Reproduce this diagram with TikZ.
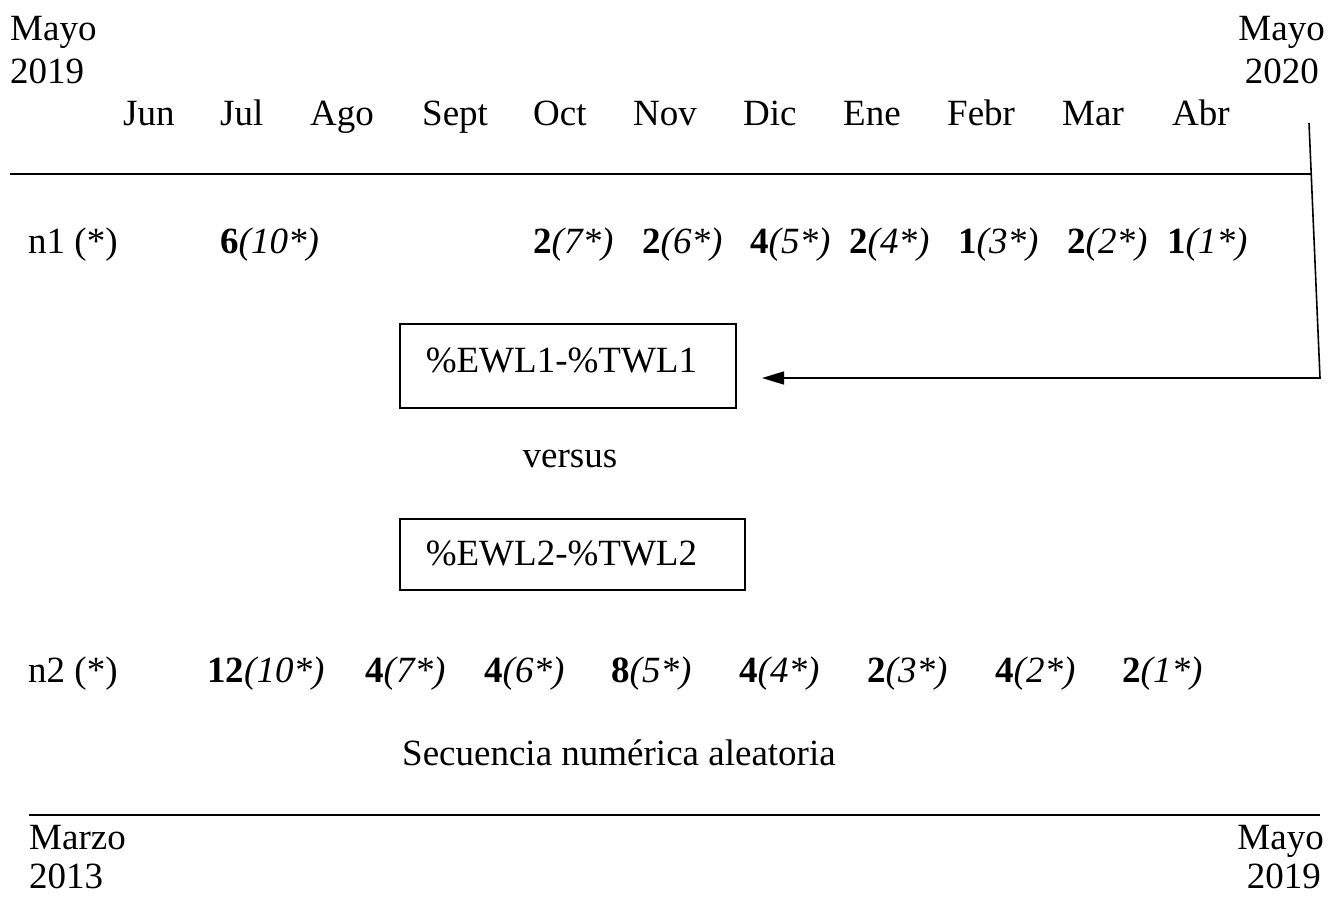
\documentclass[tikz,border=0pt]{standalone}
\usepackage{fontspec}
\setmainfont{Liberation Serif}
\usetikzlibrary{arrows.meta}
\tikzset{
  txt/.style={font=\fontsize{37}{43}\selectfont, inner sep=0pt},
  lft/.style={txt, anchor=base west},
  rgt/.style={txt, anchor=base east},
  rule/.style={line width=1.6pt},
  boxn/.style={txt, draw, line width=1.6pt, anchor=north west, align=left, inner xsep=26pt, inner ysep=0pt, text height=24pt},
  conn/.style={line width=1.6pt, -{Triangle[length=22pt,width=13pt]}}
}
\newcommand{\nv}[2]{\textbf{#1}\textit{(#2*)}}
\begin{document}
\begin{tikzpicture}[x=1pt,y=-1pt]
\useasboundingbox (0,0) rectangle (1341,897);
% top corner labels
\node[lft] (tl1) at (10,40) {Mayo};
\node[lft] (tl2) at (10,83) {2019};
\node[rgt] (tr1) at (1325,40) {Mayo};
\node[rgt] (tr2) at (1319,83) {2020};
% months
\node[lft] (m1) at (123,125) {Jun};
\node[lft] (m2) at (220,125) {Jul};
\node[lft] (m3) at (310,125) {Ago};
\node[lft] (m4) at (422,125) {Sept};
\node[lft] (m5) at (533,125) {Oct};
\node[lft] (m6) at (633,125) {Nov};
\node[lft] (m7) at (743,125) {Dic};
\node[lft] (m8) at (843,125) {Ene};
\node[lft] (m9) at (947,125) {Febr};
\node[lft] (m10) at (1062,125) {Mar};
\node[lft] (m11) at (1172,125) {Abr};
% top rule
\coordinate (r1a) at (10,174);
\coordinate (r1b) at (1311,174);
\draw[rule] (r1a) -- (r1b);
% n1 row
\node[lft] (n1) at (28,253) {n1 (*)};
\node[lft] (a1) at (220,253) {\nv{6}{10}};
\node[lft] (a2) at (533,253) {\nv{2}{7}};
\node[lft] (a3) at (642,253) {\nv{2}{6}};
\node[lft] (a4) at (750,253) {\nv{4}{5}};
\node[lft] (a5) at (849,253) {\nv{2}{4}};
\node[lft] (a6) at (958,253) {\nv{1}{3}};
\node[lft] (a7) at (1067,253) {\nv{2}{2}};
\node[lft] (a8) at (1167,253) {\nv{1}{1}};
% boxes
\node[boxn, text width=284pt, minimum height=84pt, text depth=10pt] (box1) at (399,323) {\%EWL1-\%TWL1};
\node[txt, anchor=base] (vs) at (570,467) {versus};
\node[boxn, text width=293pt, minimum height=71pt, text depth=1pt] (box2) at (399,518) {\%EWL2-\%TWL2};
% connector
\coordinate (c1) at (1309,123);
\coordinate (c2) at (1320,378);
\coordinate (c3) at (762,378);
\draw[conn] (c1) -- (c2) -- (c3);
% n2 row
\node[lft] (n2) at (28,682) {n2 (*)};
\node[lft] (b1) at (207,682) {\nv{12}{10}};
\node[lft] (b2) at (365,682) {\nv{4}{7}};
\node[lft] (b3) at (484,682) {\nv{4}{6}};
\node[lft] (b4) at (611,682) {\nv{8}{5}};
\node[lft] (b5) at (739,682) {\nv{4}{4}};
\node[lft] (b6) at (867,682) {\nv{2}{3}};
\node[lft] (b7) at (995,682) {\nv{4}{2}};
\node[lft] (b8) at (1122,682) {\nv{2}{1}};
\node[lft] (seq) at (402,765) {Secuencia numérica aleatoria};
% bottom rule
\coordinate (r2a) at (29,815);
\coordinate (r2b) at (1320,815);
\draw[rule] (r2a) -- (r2b);
\node[lft] (bl1) at (29,849) {Marzo};
\node[lft] (bl2) at (29,888) {2013};
\node[rgt] (br1) at (1324,849) {Mayo};
\node[rgt] (br2) at (1321,888) {2019};
\end{tikzpicture}
\end{document}
